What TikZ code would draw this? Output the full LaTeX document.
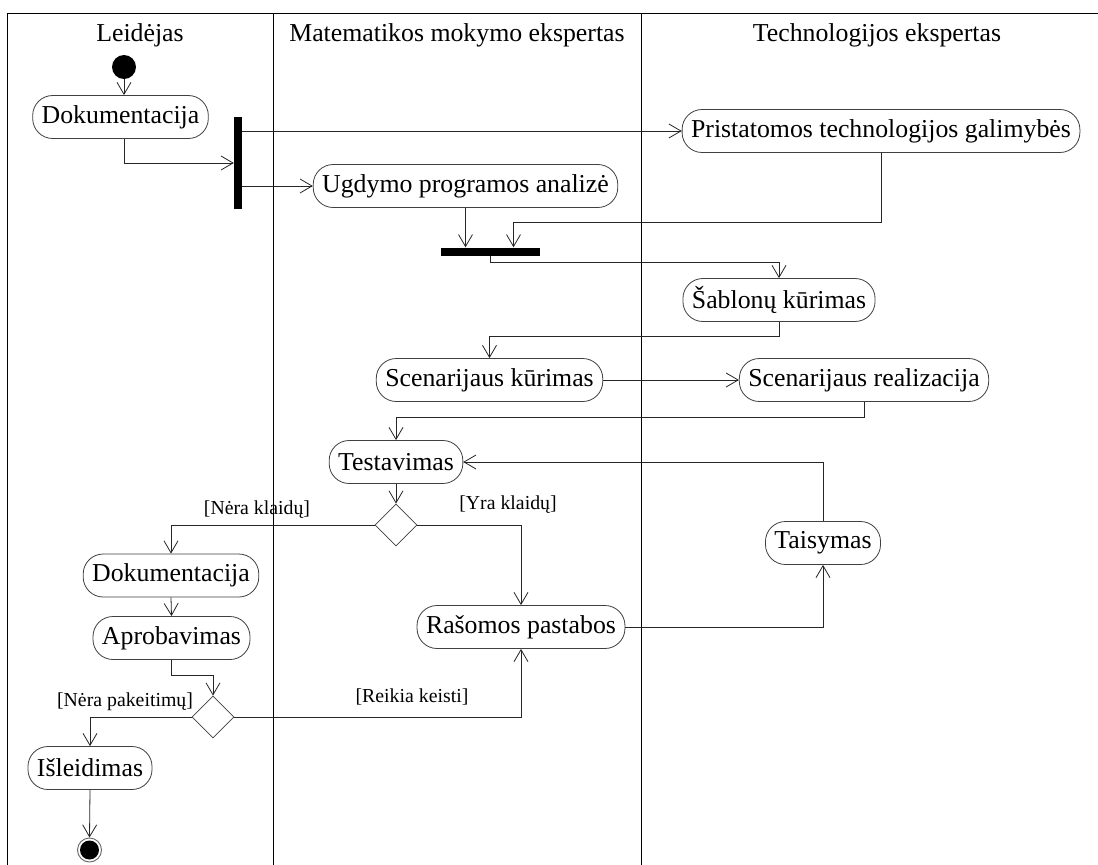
\documentclass[tikz,border=0pt]{standalone}
\usepackage{fontspec}
\setmainfont{Liberation Serif}
\usetikzlibrary{arrows.meta,shapes.geometric}
\begin{document}
\begin{tikzpicture}[x=1pt,y=-1pt,
  act/.style={draw=black!75, line width=0.8pt, rounded corners=20pt, inner xsep=9pt, inner ysep=0pt,
    minimum height=43pt, font=\fontsize{25.8}{30}\selectfont, fill=white},
  heading/.style={font=\fontsize{25.8}{30}\selectfont},
  lbl/.style={font=\fontsize{19.8}{24}\selectfont},
  barnode/.style={fill=black, draw=none, inner sep=0pt, rectangle},
  dec/.style={diamond, draw=black!75, line width=0.8pt, minimum width=42pt, minimum height=42pt, inner sep=0pt, fill=white},
  arr/.style={draw=black!85, line width=0.8pt, -{Straight Barb[length=12pt,width=14pt,line width=0.8pt]}},
  frame/.style={draw=black, line width=0.9pt}
]
\useasboundingbox (0,0) rectangle (1098,865);
\fill[white] (0,0) rectangle (1098,865);
% frame and lanes
\draw[frame] (7.5,865) -- (7.5,13.5) -- (1098,13.5);
\draw[frame] (273,13.5) -- (273,865);
\draw[frame] (641.5,13.5) -- (641.5,865);
\node[heading] (h1) at (140,35) {Leidėjas};
\node[heading] (h2) at (457,35) {Matematikos mokymo ekspertas};
\node[heading] (h3) at (877,35) {Technologijos ekspertas};
% nodes
\node[circle, fill=black, inner sep=0pt, minimum size=24pt] (init) at (124,67) {};
\node[act] (dok1) at (120.5,117) {Dokumentacija};
\node[barnode, minimum width=8pt, minimum height=92pt] (fork) at (238,163) {};
\node[act] (prist) at (881,131) {Pristatomos technologijos galimybės};
\node[act] (ugd) at (465.5,186) {Ugdymo programos analizė};
\node[barnode, minimum width=99pt, minimum height=8pt] (join) at (490.5,251.5) {};
\node[act] (sab) at (779,300) {Šablonų kūrimas};
\node[act] (sck) at (489.5,380) {Scenarijaus kūrimas};
\node[act] (scr) at (864,380) {Scenarijaus realizacija};
\node[act] (test) at (396,462) {Testavimas};
\node[dec] (d1) at (396,525) {};
\node[act] (tais) at (823,543) {Taisymas};
\node[act] (dok2) at (171,575.5) {Dokumentacija};
\node[act] (ras) at (521,627) {Rašomos pastabos};
\node[act] (apr) at (171.5,638) {Aprobavimas};
\node[dec] (d2) at (213,717) {};
\node[act] (isl) at (90,768) {Išleidimas};
\node[circle, draw=black!60, line width=0.9pt, fill=white, inner sep=0pt, minimum size=24pt] (final) at (89.5,850) {};
\fill[black] (final.center) circle (9.5pt);
% labels
\node[lbl] (l1) at (257,510) {[Nėra klaidų]};
\node[lbl] (l2) at (508,505) {[Yra klaidų]};
\node[lbl] (l3) at (125,702) {[Nėra pakeitimų]};
\node[lbl] (l4) at (412,697) {[Reikia keisti]};
% connectors
\draw[arr] (init.south) -- (init.south |- dok1.north);
\draw[arr] ([xshift=4pt]dok1.south) |- (fork.west);
\draw[arr] (fork.east |- prist.west) -- (prist.west);
\draw[arr] (fork.east |- ugd.west) -- (ugd.west);
\draw[arr] (ugd.south) -- (ugd.south |- join.north);
\draw[arr] (prist.south) -- ++(0,69.5) -| ([xshift=23pt]join.north);
\draw[arr] (join.south) -- ++(0,7) -| (sab.north);
\draw[arr] (sab.south) -- ++(0,14.7) -| (sck.north);
\draw[arr] (sck.east) -- (scr.west);
\draw[arr] (scr.south) -- ++(0,15) -| (test.north);
\draw[arr] (test.south) -- (d1.north);
\draw[arr] (d1.west) -| (dok2.north);
\draw[arr] (d1.east) -| (ras.north);
\draw[arr] (dok2.south) -- (apr.north);
\draw[arr] (apr.south) -- ++(0,15) -| (d2.north);
\draw[arr] (d2.west) -| (isl.north);
\draw[arr] (d2.east) -| (ras.south);
\draw[arr] (ras.east) -| (tais.south);
\draw[arr] (tais.north) |- (test.east);
\draw[arr] (isl.south) -- (final.north);
\end{tikzpicture}
\end{document}
